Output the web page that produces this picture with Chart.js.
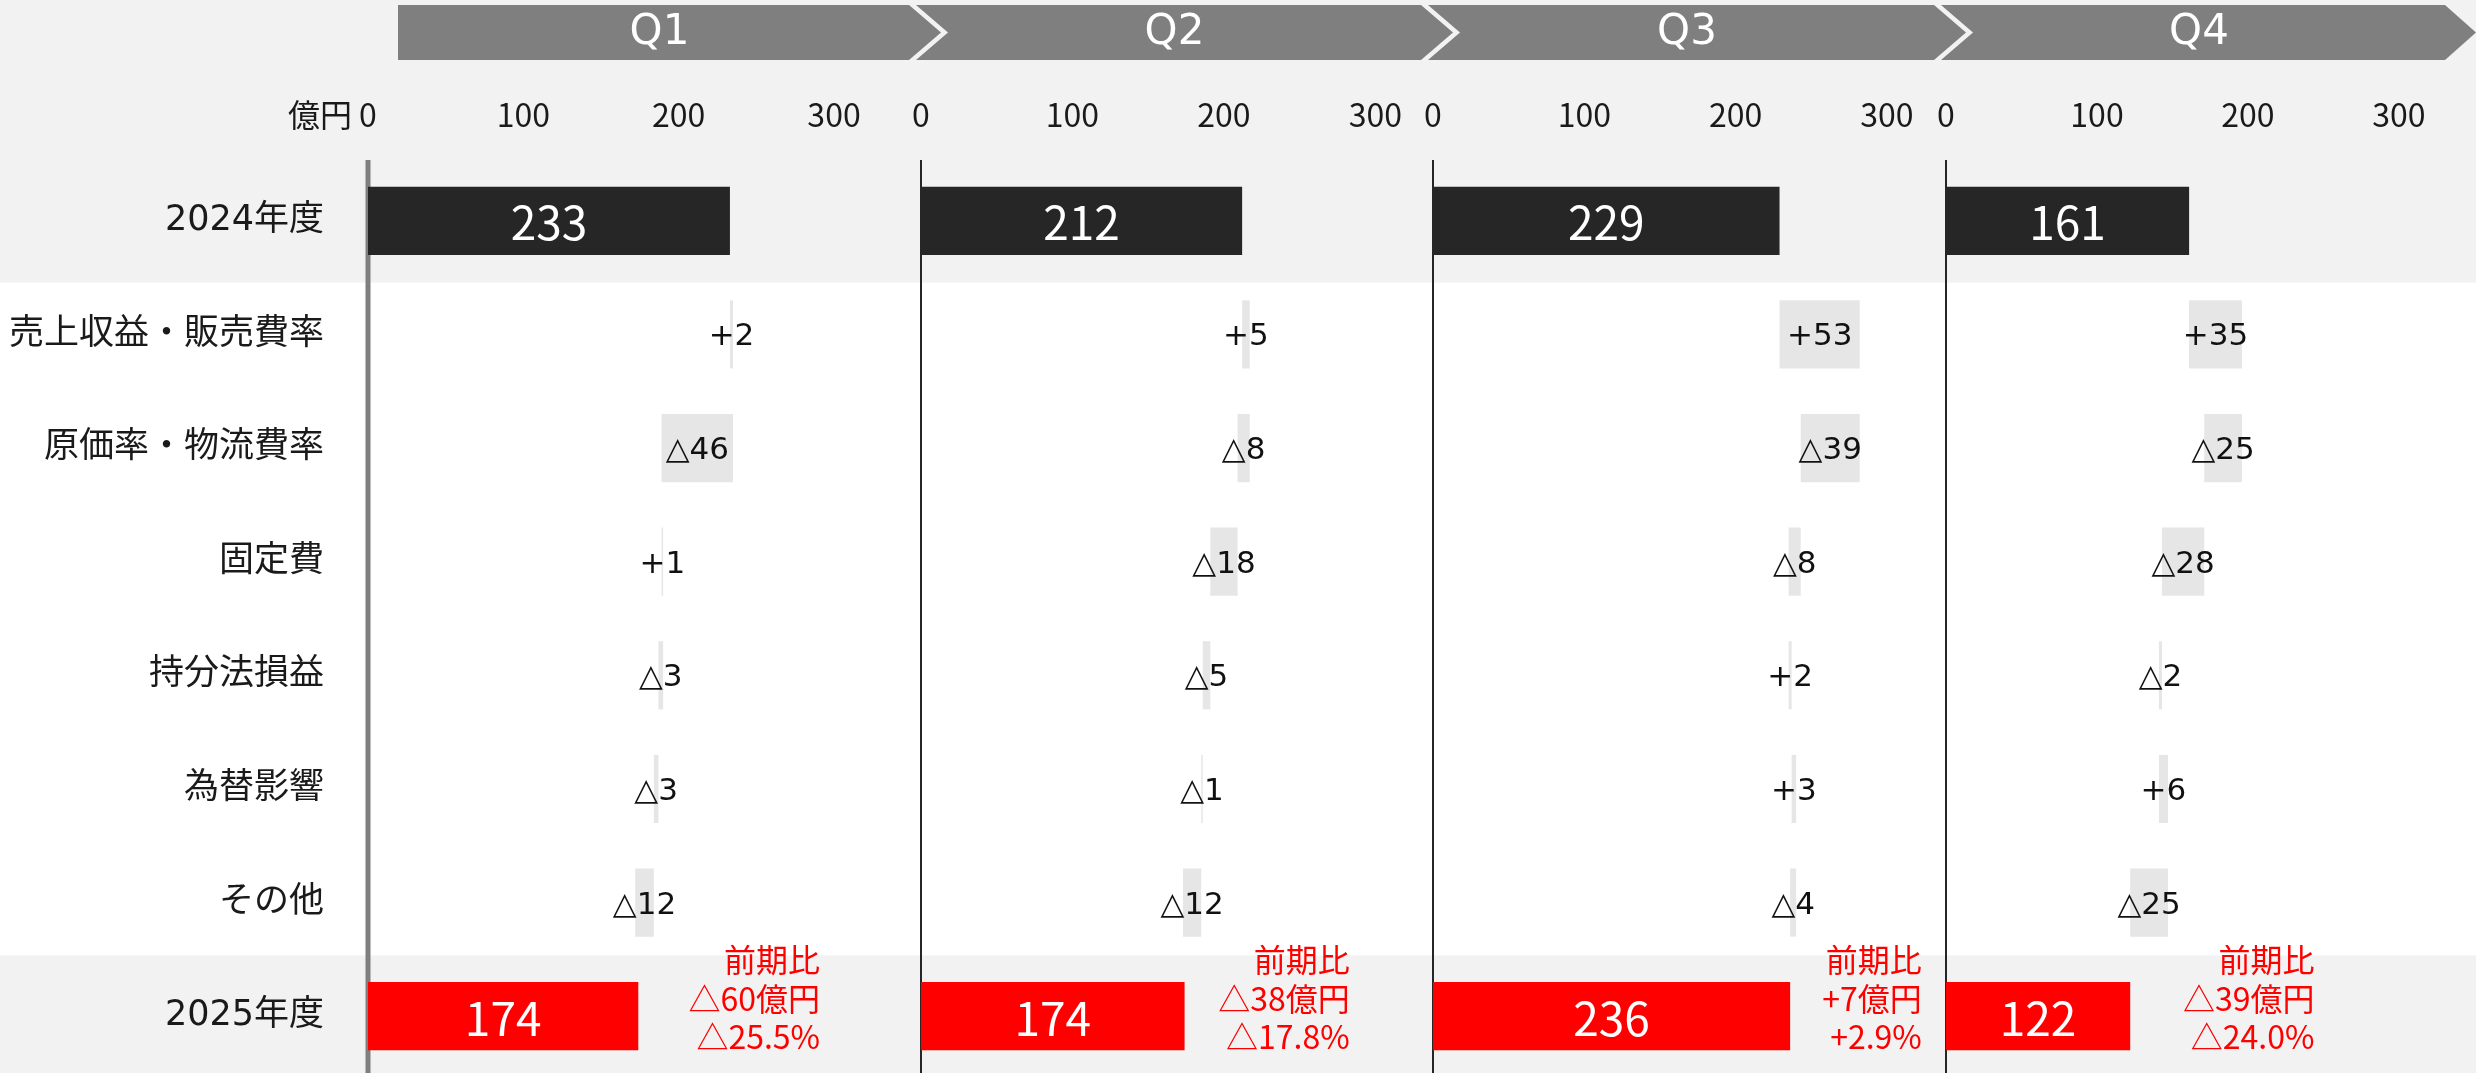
<!DOCTYPE html>
<html lang="ja">
<head>
<meta charset="utf-8">
<title>四半期別 増減要因</title>
<script src="https://cdn.jsdelivr.net/npm/chart.js@4.4.1/dist/chart.umd.min.js"></script>
<style>
  html, body { margin: 0; padding: 0; background: #fff; }
  #wrap { width: 2476px; height: 1073px; position: relative; }
</style>
</head>
<body>
<div id="wrap"><canvas id="chart"></canvas></div>
<script>
// Rows (top to bottom)
const rows = ["2024年度", "売上収益・販売費率", "原価率・物流費率", "固定費", "持分法損益", "為替影響", "その他", "2025年度"];
const quarters = ["Q1", "Q2", "Q3", "Q4"];

// 億円
const fy2024 = [233, 212, 229, 161];
const fy2025 = [174, 174, 236, 122];
const deltaQ1 = [2, -46, 1, -3, -3, -12];
const deltaQ2 = [5, -8, -18, -5, -1, -12];
const deltaQ3 = [53, -39, -8, 2, 3, -4];
const deltaQ4 = [35, -25, -28, -2, 6, -25];
const deltas = [deltaQ1, deltaQ2, deltaQ3, deltaQ4];

// 前期比
const yoyYen = [-60, -38, 7, -39];
const yoyPct = [-25.5, -17.8, 2.9, -24.0];

const tickValues = [0, 100, 200, 300];

// per-panel axis range and width share
const axisMax = [356, 338, 339, 351];
const panelWeight = [553, 512, 513, 530];
// right edge of the 前期比 note, in axis units
const noteRight = [291, 283, 323, 244];

const JP = "'Noto Sans CJK JP', 'Noto Sans', sans-serif";
const NUM = "'DejaVu Sans', 'Noto Sans CJK JP', sans-serif";

const sign = (v, digits = 0) => (v < 0 ? "△" : "+") + Math.abs(v).toFixed(digits);

function waterfall(start, steps, end) {
  const out = [[0, start]];
  let run = start;
  steps.forEach(v => {
    out.push([run, run + v]);
    run += v;
  });
  out.push([0, end]);
  return out;
}

const barColors = rows.map((r, i) =>
  i === 0 ? "#262626" : i === rows.length - 1 ? "#ff0000" : "#e6e6e6"
);

const datasets = quarters.map((q, i) => ({
  label: q,
  data: waterfall(fy2024[i], deltas[i], fy2025[i]),
  xAxisID: "x" + (i + 1),
  yAxisID: "y",
  backgroundColor: barColors,
  grouped: false,
  barPercentage: 0.6,
  categoryPercentage: 1
}));

const scales = {
  y: {
    type: "category",
    position: "left",
    grid: { display: false },
    border: { display: false },
    ticks: { padding: 36, color: "#1a1a1a", font: { family: NUM, size: 35 } },
    afterFit: s => {
      s.width = 368;
      s.paddingTop = 0;
      s.paddingBottom = 0;
    }
  }
};
quarters.forEach((q, i) => {
  scales["x" + (i + 1)] = {
    type: "linear",
    axis: "x",
    position: "top",
    stack: "quarters",
    stackWeight: panelWeight[i],
    weight: quarters.length - i, // top boxes are laid out in reverse order
    min: 0,
    max: axisMax[i],
    grid: { display: false, drawTicks: false },
    border: { display: false },
    afterBuildTicks: s => { s.ticks = tickValues.map(v => ({ value: v })); },
    ticks: {
      padding: 30,
      autoSkip: false,
      maxRotation: 0,
      color: "#1a1a1a",
      font: { family: JP, size: 32 }
    },
    afterFit: s => {
      s.height = 81;
      s.paddingLeft = 0;
      s.paddingRight = 0;
    }
  };
});

function xScales(chart) {
  return quarters.map((q, i) => chart.scales["x" + (i + 1)]);
}

// background bands, quarter chevrons, unit label
const backdrop = {
  id: "backdrop",
  beforeDraw(chart) {
    const { ctx, width, height, chartArea } = chart;
    const y = chart.scales.y;
    const xs = xScales(chart);
    const zero = xs.map(s => s.getPixelForValue(0));

    ctx.save();
    ctx.fillStyle = "#ffffff";
    ctx.fillRect(0, 0, width, height);
    ctx.fillStyle = "#f2f2f2";
    const topEdge = (y.getPixelForValue(0) + y.getPixelForValue(1)) / 2 + 5;
    const botEdge = (y.getPixelForValue(6) + y.getPixelForValue(7)) / 2 - 4;
    ctx.fillRect(0, 0, width, topEdge);
    ctx.fillRect(0, botEdge, width, height - botEdge);

    // chevrons
    const top = 5, bot = 60, mid = (top + bot) / 2, gap = 7;
    quarters.forEach((q, i) => {
      const rTop = i < 3 ? zero[i + 1] - 12 : chartArea.right - 31;
      const rTip = i < 3 ? zero[i + 1] + 20 : chartArea.right;
      const lTop = i === 0 ? zero[0] + 30 : zero[i] - 12 + gap;
      const lTip = i === 0 ? lTop : zero[i] + 20 + gap;
      ctx.beginPath();
      ctx.moveTo(lTop, top);
      ctx.lineTo(rTop, top);
      ctx.lineTo(rTip, mid);
      ctx.lineTo(rTop, bot);
      ctx.lineTo(lTop, bot);
      ctx.lineTo(lTip, mid);
      ctx.closePath();
      ctx.fillStyle = "#7f7f7f";
      ctx.fill();

      ctx.fillStyle = "#ffffff";
      ctx.font = "42px " + NUM;
      ctx.textAlign = "center";
      ctx.textBaseline = "middle";
      ctx.fillText(q, (lTop + rTop) / 2 + 6, mid + 1);
    });

    // unit
    ctx.fillStyle = "#1a1a1a";
    ctx.font = "32px " + JP;
    ctx.textAlign = "right";
    ctx.textBaseline = "middle";
    ctx.fillText("億円", zero[0] - 16, 115);
    ctx.restore();
  },
  beforeDatasetsDraw(chart) {
    const { ctx, chartArea } = chart;
    ctx.save();
    xScales(chart).forEach((s, i) => {
      const x = s.getPixelForValue(0);
      ctx.beginPath();
      ctx.moveTo(x, chartArea.top - 4);
      ctx.lineTo(x, chartArea.bottom);
      ctx.strokeStyle = i === 0 ? "#7f7f7f" : "#262626";
      ctx.lineWidth = i === 0 ? 5 : 2;
      ctx.stroke();
    });
    ctx.restore();
  }
};

// value labels and 前期比 notes
const labels = {
  id: "labels",
  afterDatasetsDraw(chart) {
    const { ctx } = chart;
    const last = rows.length - 1;
    ctx.save();
    ctx.textBaseline = "middle";
    chart.data.datasets.forEach((ds, di) => {
      const meta = chart.getDatasetMeta(di);
      ctx.textAlign = "center";
      meta.data.forEach((bar, j) => {
        const cx = (bar.x + bar.base) / 2;
        if (j === 0 || j === last) {
          ctx.fillStyle = "#ffffff";
          ctx.font = "46px " + JP;
          ctx.fillText(j === 0 ? fy2024[di] : fy2025[di], cx, bar.y + 2);
        } else {
          ctx.fillStyle = "#111111";
          ctx.font = "31px " + NUM;
          ctx.fillText(sign(deltas[di][j - 1]), cx, bar.y + 3);
        }
      });

      // 前期比 note
      const s = chart.scales["x" + (di + 1)];
      const y7 = chart.scales.y.getPixelForValue(last);
      const xr = s.getPixelForValue(noteRight[di]);
      ctx.fillStyle = "#ff0000";
      ctx.font = "32px " + JP;
      ctx.textAlign = "right";
      ctx.fillText("前期比", xr, y7 - 56);
      ctx.fillText(sign(yoyYen[di]) + "億円", xr, y7 - 17);
      ctx.fillText(sign(yoyPct[di], 1) + "%", xr, y7 + 21);
    });
    ctx.restore();
  }
};

new Chart(document.getElementById("chart"), {
  type: "bar",
  data: { labels: rows, datasets },
  options: {
    indexAxis: "y",
    responsive: true,
    maintainAspectRatio: false,
    animation: false,
    layout: { padding: { top: 83, left: 0, right: 0, bottom: 0 } },
    plugins: { legend: { display: false }, tooltip: { enabled: false } },
    scales
  },
  plugins: [backdrop, labels]
});
</script>
</body>
</html>
